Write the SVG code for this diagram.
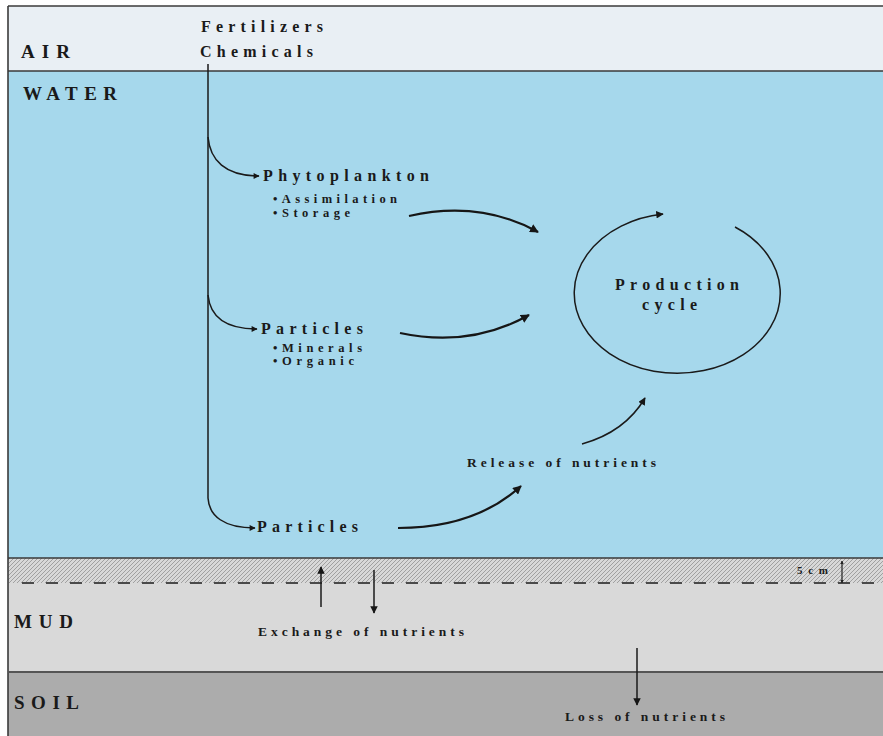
<svg xmlns="http://www.w3.org/2000/svg" width="883" height="736" viewBox="0 0 883 736">
  <style>
    .lbl { font-family: "Liberation Serif", "Times New Roman", serif; font-weight: bold; fill: #1a1a1a; }
    .layer { font-size: 19px; }
    .main { font-size: 16px; }
    .sub { font-size: 12.5px; }
    .note { font-size: 13.5px; }
    .flow { fill: none; stroke: #161616; stroke-width: 2.2; }
    .thin { fill: none; stroke: #1a1a1a; stroke-width: 1.5; }
    .edge { stroke: #3a3a3a; stroke-width: 1.6; }
  </style>
  <defs>
    <marker id="head" viewBox="0 0 10 10" refX="9" refY="5" markerWidth="4.2" markerHeight="4" orient="auto" markerUnits="strokeWidth">
      <path d="M0 0 L10 5 L0 10 Z" fill="#161616"/>
    </marker>
    <marker id="headS" viewBox="0 0 10 10" refX="9" refY="5" markerWidth="5.5" markerHeight="5" orient="auto" markerUnits="strokeWidth">
      <path d="M0 0 L10 5 L0 10 Z" fill="#161616"/>
    </marker>
    <marker id="tick" viewBox="0 0 10 10" refX="9" refY="5" markerWidth="3" markerHeight="3" orient="auto" markerUnits="strokeWidth">
      <path d="M0 0 L10 5 L0 10 Z" fill="#222"/>
    </marker>
    <pattern id="hatch" patternUnits="userSpaceOnUse" width="4" height="4">
      <rect width="4" height="4" fill="#d8d8d8"/>
      <path d="M-1 1 L1 -1 M0 4 L4 0 M3 5 L5 3" stroke="#9a9a9a" stroke-width="0.9"/>
    </pattern>
  </defs>

  <!-- layers -->
  <g id="layers">
    <rect x="0" y="0" width="883" height="736" fill="#ffffff"/>
    <rect x="8" y="6" width="875" height="65" fill="#e9eff4"/>
    <rect x="8" y="71" width="875" height="487" fill="#a6d8ec"/>
    <rect x="8" y="558" width="875" height="115" fill="#d9d9d9"/>
    <rect x="8" y="558" width="875" height="25" fill="url(#hatch)"/>
    <rect x="8" y="673" width="875" height="63" fill="#acacac"/>
    <line class="edge" x1="8" y1="6" x2="883" y2="6"/>
    <line class="edge" x1="8" y1="6" x2="8" y2="736"/>
    <line class="edge" x1="8" y1="71" x2="883" y2="71"/>
    <line class="edge" x1="8" y1="558" x2="883" y2="558"/>
    <line x1="8" y1="672" x2="883" y2="672" stroke="#555" stroke-width="2.2"/>
    <line x1="22" y1="583" x2="883" y2="583" stroke="#4a4a4a" stroke-width="2" stroke-dasharray="12 12"/>
  </g>

  <g id="layer-labels">
    <text class="lbl layer" x="21" y="58" textLength="49" lengthAdjust="spacing">AIR</text>
    <text class="lbl layer" x="23" y="100" textLength="94" lengthAdjust="spacing">WATER</text>
    <text class="lbl layer" x="14" y="628" textLength="59" lengthAdjust="spacing">MUD</text>
    <text class="lbl layer" x="14" y="709" textLength="65" lengthAdjust="spacing">SOIL</text>
  </g>

  <g id="source">
    <text class="lbl main" x="201" y="32" textLength="122" lengthAdjust="spacing">Fertilizers</text>
    <text class="lbl main" x="200" y="57" textLength="113" lengthAdjust="spacing">Chemicals</text>
  </g>

  <g id="phytoplankton">
    <text class="lbl main" x="263" y="181" textLength="166" lengthAdjust="spacing">Phytoplankton</text>
    <text class="lbl sub" x="273" y="203" textLength="124" lengthAdjust="spacing">•Assimilation</text>
    <text class="lbl sub" x="273" y="217" textLength="77" lengthAdjust="spacing">•Storage</text>
  </g>

  <g id="particles-suspended">
    <text class="lbl main" x="261" y="334" textLength="102" lengthAdjust="spacing">Particles</text>
    <text class="lbl sub" x="273" y="352" textLength="89" lengthAdjust="spacing">•Minerals</text>
    <text class="lbl sub" x="273" y="365" textLength="81" lengthAdjust="spacing">•Organic</text>
  </g>

  <g id="particles-settled">
    <text class="lbl main" x="257" y="532" textLength="101" lengthAdjust="spacing">Particles</text>
  </g>

  <g id="production-cycle">
    <path class="thin" d="M 735 227 A 103 80 0 1 1 663 214" marker-end="url(#headS)"/>
    <text class="lbl main" x="615" y="290" textLength="124" lengthAdjust="spacing">Production</text>
    <text class="lbl main" x="642" y="310" textLength="55" lengthAdjust="spacing">cycle</text>
  </g>

  <g id="release">
    <text class="lbl note" x="467" y="467" textLength="189" lengthAdjust="spacing">Release of nutrients</text>
  </g>

  <g id="exchange">
    <text class="lbl note" x="258" y="636" textLength="206" lengthAdjust="spacing">Exchange of nutrients</text>
  </g>

  <g id="loss">
    <text class="lbl note" x="565" y="721" textLength="160" lengthAdjust="spacing">Loss of nutrients</text>
  </g>

  <g id="depth-mark">
    <text class="lbl" x="797" y="574" font-size="11" textLength="31" lengthAdjust="spacing">5cm</text>
    <line x1="842" y1="569" x2="842" y2="561" stroke="#222" stroke-width="1.2" marker-end="url(#tick)"/>
    <line x1="842" y1="569" x2="842" y2="583" stroke="#222" stroke-width="1.2" marker-end="url(#tick)"/>
  </g>

  <!-- connectors -->
  <g id="connectors">
    <path class="thin" d="M 208 64 L 208 498 C 209 516 224 528 255 528" marker-end="url(#head)"/>
    <path class="thin" d="M 208 137 C 210 160 225 176 259 176" marker-end="url(#head)"/>
    <path class="thin" d="M 208 295 C 210 316 225 329 257 329" marker-end="url(#head)"/>
    <path class="flow" d="M 409 216 Q 480 200 538 232" marker-end="url(#head)"/>
    <path class="flow" d="M 400 333 Q 470 348 529 315" marker-end="url(#head)"/>
    <path class="flow" d="M 398 528 Q 475 528 521 486" marker-end="url(#head)"/>
    <path class="thin" d="M 582 444 Q 625 432 645 398" marker-end="url(#headS)"/>
    <line class="thin" x1="321" y1="607" x2="321" y2="567" marker-end="url(#headS)"/>
    <line class="thin" x1="374" y1="570" x2="374" y2="613" marker-end="url(#headS)"/>
    <line class="thin" x1="637" y1="648" x2="637" y2="705" marker-end="url(#headS)"/>
  </g>
</svg>
